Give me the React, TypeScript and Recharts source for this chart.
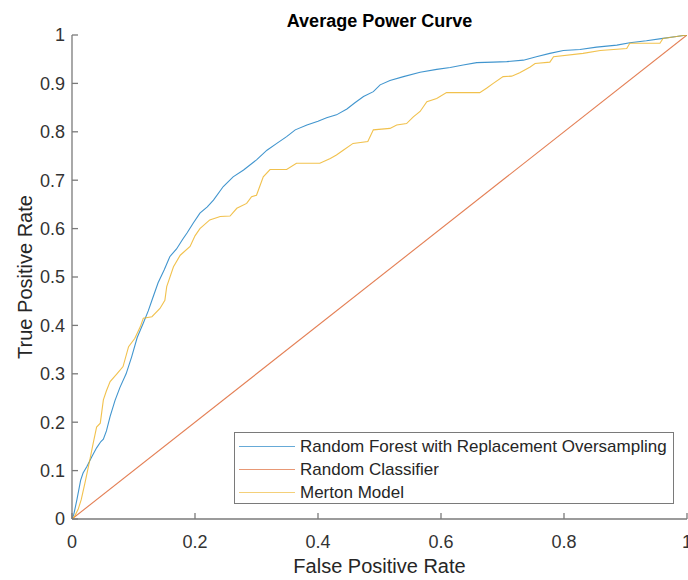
import React from 'react';
import { LineChart, Line, XAxis, YAxis, Legend } from 'recharts';

// ---- Data ----
const rfFpr = [0, 0.003, 0.008, 0.014, 0.018, 0.024, 0.032, 0.04, 0.047, 0.051, 0.056, 0.062, 0.07, 0.078, 0.088, 0.097, 0.106, 0.116, 0.124, 0.13, 0.14, 0.15, 0.159, 0.17, 0.18, 0.187, 0.197, 0.208, 0.22, 0.23, 0.246, 0.262, 0.279, 0.3, 0.317, 0.333, 0.349, 0.363, 0.382, 0.4, 0.414, 0.43, 0.447, 0.46, 0.474, 0.49, 0.501, 0.517, 0.539, 0.566, 0.593, 0.615, 0.636, 0.658, 0.685, 0.707, 0.734, 0.755, 0.777, 0.799, 0.826, 0.853, 0.886, 0.907, 0.934, 0.961, 0.983, 1];
const rfTpr = [0, 0.01, 0.04, 0.08, 0.095, 0.108, 0.128, 0.147, 0.16, 0.165, 0.182, 0.212, 0.245, 0.272, 0.3, 0.335, 0.375, 0.405, 0.43, 0.452, 0.488, 0.515, 0.542, 0.558, 0.578, 0.591, 0.611, 0.632, 0.645, 0.659, 0.687, 0.707, 0.721, 0.742, 0.762, 0.776, 0.79, 0.804, 0.814, 0.822, 0.829, 0.835, 0.847, 0.86, 0.873, 0.883, 0.897, 0.906, 0.914, 0.923, 0.929, 0.933, 0.938, 0.943, 0.944, 0.945, 0.948, 0.955, 0.962, 0.968, 0.97, 0.975, 0.979, 0.984, 0.988, 0.993, 0.997, 1];

const randomFpr = [0, 1];
const randomTpr = [0, 1];

const mertonFpr = [0, 0.004, 0.01, 0.015, 0.021, 0.029, 0.035, 0.04, 0.046, 0.051, 0.056, 0.062, 0.073, 0.083, 0.092, 0.102, 0.111, 0.116, 0.13, 0.143, 0.151, 0.154, 0.165, 0.176, 0.192, 0.2, 0.208, 0.224, 0.241, 0.257, 0.268, 0.284, 0.292, 0.3, 0.311, 0.322, 0.349, 0.365, 0.403, 0.42, 0.43, 0.441, 0.457, 0.481, 0.49, 0.517, 0.528, 0.544, 0.555, 0.566, 0.577, 0.593, 0.609, 0.663, 0.674, 0.685, 0.701, 0.715, 0.728, 0.745, 0.753, 0.777, 0.783, 0.831, 0.859, 0.902, 0.907, 0.956, 0.961, 0.983, 1];
const mertonTpr = [0, 0.005, 0.02, 0.04, 0.074, 0.122, 0.16, 0.19, 0.198, 0.246, 0.265, 0.284, 0.3, 0.315, 0.356, 0.373, 0.397, 0.415, 0.418, 0.435, 0.452, 0.48, 0.521, 0.545, 0.563, 0.585, 0.6, 0.618, 0.625, 0.626, 0.642, 0.652, 0.666, 0.669, 0.707, 0.722, 0.722, 0.735, 0.735, 0.745, 0.752, 0.762, 0.776, 0.78, 0.804, 0.807, 0.814, 0.817, 0.831, 0.842, 0.862, 0.869, 0.881, 0.881, 0.89, 0.9, 0.914, 0.915, 0.922, 0.934, 0.941, 0.944, 0.955, 0.962, 0.968, 0.972, 0.983, 0.983, 0.993, 0.997, 1];

const xTicks = [0, 0.2, 0.4, 0.6, 0.8, 1];
const yTicks = [0, 0.1, 0.2, 0.3, 0.4, 0.5, 0.6, 0.7, 0.8, 0.9, 1];

const title = 'Average Power Curve';
const xLabel = 'False Positive Rate';
const yLabel = 'True Positive Rate';
const seriesNames = [
  'Random Forest with Replacement Oversampling',
  'Random Classifier',
  'Merton Model',
];
const seriesColors = ['#0072BD', '#D95319', '#EDB120'];

const toPoints = (xs: number[], ys: number[]) => xs.map((x, i) => ({ x, y: ys[i] }));
const rfData = toPoints(rfFpr, rfTpr);
const randomData = toPoints(randomFpr, randomTpr);
const mertonData = toPoints(mertonFpr, mertonTpr);

const FONT = '"Liberation Sans", Arial, Helvetica, sans-serif';
const AXIS = '#7a7a7a';
const TEXT = '#262626';

const renderLegend = () => {
  return (
    <div
      style={{
        boxSizing: 'border-box',
        width: 440,
        height: 72,
        border: `1.5px solid ${AXIS}`,
        background: '#fff',
        padding: '2px 0 0 4px',
        fontFamily: FONT,
        fontSize: 17,
        color: TEXT,
      }}
    >
      {seriesNames.map((name, i) => (
        <div key={name} style={{ display: 'flex', alignItems: 'center', height: 23 }}>
          <span
            style={{
              display: 'inline-block',
              width: 56,
              height: 0,
              borderTop: `1.5px solid ${seriesColors[i]}`,
              marginRight: 5,
              opacity: 0.6,
            }}
          />
          <span style={{ whiteSpace: 'nowrap' }}>{name}</span>
        </div>
      ))}
    </div>
  );
};

const renderYLabel = (p: any) => {
  const vb = p.viewBox || {};
  const cx = (vb.x ?? 0) + 32;
  const cy = (vb.y ?? 0) + (vb.height ?? 0) / 2;
  return (
    <text
      x={cx}
      y={cy}
      transform={`rotate(-90 ${cx} ${cy})`}
      textAnchor="middle"
      fontSize={20}
      fontFamily={FONT}
      fill={TEXT}
    >
      {yLabel}
    </text>
  );
};

const tickStyle = { fontSize: 18, fontFamily: FONT, fill: '#333' };

export default function App() {
  return (
    <div style={{ position: 'absolute', left: 0, top: 0, width: 688, height: 580, background: '#fff' }}>
      <LineChart width={688} height={580} margin={{ top: 35, right: 1, bottom: 0, left: 0 }}>
        <XAxis
          dataKey="x"
          type="number"
          domain={[0, 1]}
          ticks={xTicks}
          interval={0}
          allowDataOverflow
          height={61}
          stroke={AXIS}
          strokeWidth={1.3}
          tickSize={-6}
          tickMargin={22}
          tick={tickStyle}
          tickFormatter={(v: number) => String(v)}
          label={{ value: xLabel, position: 'insideBottom', offset: 7, fontSize: 20, fontFamily: FONT, fill: TEXT }}
        />
        <XAxis
          xAxisId="top"
          orientation="top"
          type="number"
          domain={[0, 1]}
          ticks={xTicks}
          interval={0}
          height={0}
          stroke={AXIS}
          strokeWidth={1.3}
          tickSize={-6}
          tick={false}
        />
        <YAxis
          type="number"
          domain={[0, 1]}
          ticks={yTicks}
          interval={0}
          allowDataOverflow
          width={72}
          stroke={AXIS}
          strokeWidth={1.3}
          tickSize={-6}
          tickMargin={13}
          tick={tickStyle}
          tickFormatter={(v: number) => String(v)}
          label={{ content: renderYLabel }}
        />
        <YAxis
          yAxisId="right"
          orientation="right"
          type="number"
          domain={[0, 1]}
          ticks={yTicks}
          interval={0}
          width={0}
          stroke={AXIS}
          strokeWidth={1.3}
          tickSize={-6}
          tick={false}
        />
        <Legend
          layout="vertical"
          align="center"
          verticalAlign="middle"
          width={440}
          height={72}
          wrapperStyle={{ left: 234, top: 432, width: 440, height: 72 }}
          content={renderLegend}
        />
        <Line data={rfData} dataKey="y" name={seriesNames[0]} type="linear" stroke={seriesColors[0]} strokeWidth={1.1} strokeOpacity={0.75} dot={false} activeDot={false} isAnimationActive={false} />
        <Line data={randomData} dataKey="y" name={seriesNames[1]} type="linear" stroke={seriesColors[1]} strokeWidth={1.1} strokeOpacity={0.75} dot={false} activeDot={false} isAnimationActive={false} />
        <Line data={mertonData} dataKey="y" name={seriesNames[2]} type="linear" stroke={seriesColors[2]} strokeWidth={1.1} strokeOpacity={0.8} dot={false} activeDot={false} isAnimationActive={false} />
      </LineChart>
      <div
        style={{
          position: 'absolute',
          left: 72,
          top: 12,
          width: 615,
          textAlign: 'center',
          fontFamily: FONT,
          fontSize: 18,
          lineHeight: '18px',
          fontWeight: 'bold',
          color: '#000',
          whiteSpace: 'nowrap',
          pointerEvents: 'none',
        }}
      >
        {title}
      </div>
    </div>
  );
}
